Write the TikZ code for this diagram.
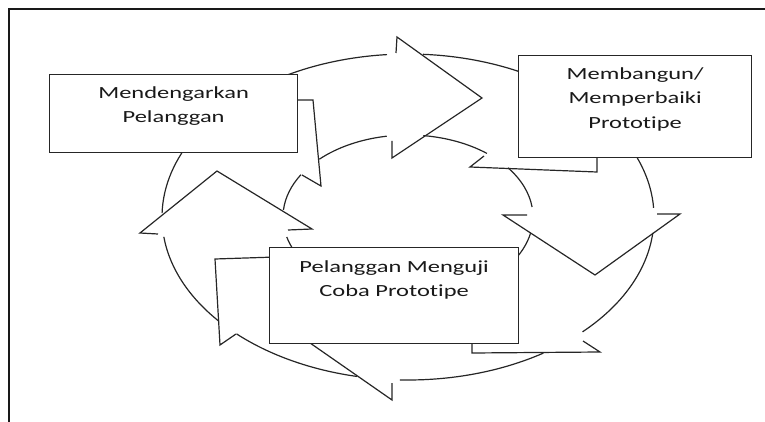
\documentclass[tikz,border=0pt]{standalone}
\usepackage{fontspec}
\setmainfont{Carlito}[RawFeature=-liga, RawFeature=-clig, RawFeature=-calt, RawFeature=-dlig]
\usetikzlibrary{positioning}

\tikzset{
  ring/.style={line width=1.2pt, draw=black!85},
  kotak/.style={draw=black!85, line width=1.2pt, fill=white, inner sep=0pt},
  tulisan/.style={text=black!90, font=\fontsize{17}{24.5}\selectfont, align=center, xscale=1.44, inner sep=0pt}
}

\begin{document}
\begin{tikzpicture}[x=1pt, y=-1pt]
    \useasboundingbox (0,0) rectangle (765,422);

    % Frame
    \draw[line width=2pt, black!90] (9,422) -- (9,9) -- (765,9);

    \coordinate (O) at (408,217);

    % Outer ring pieces
    \draw[ring] (O) ++(-125:246 and 163) arc[start angle=-125, end angle=-94.9, x radius=246, y radius=163];
    \draw[ring] (O) ++(-178.6:246 and 163) arc[start angle=-178.6, end angle=-150, x radius=246, y radius=163];
    \draw[ring] (O) ++(-86.5:246 and 163) arc[start angle=-86.5, end angle=-55, x radius=246, y radius=163];
    \draw[ring] (O) ++(-30:246 and 163) arc[start angle=-30, end angle=-3.2, x radius=246, y radius=163];
    \draw[ring] (O) ++(5.6:246 and 163) arc[start angle=5.6, end angle=44.8, x radius=246, y radius=163];
    \draw[ring] (O) ++(56.6:246 and 163) arc[start angle=56.6, end angle=91.9, x radius=246, y radius=163];
    \draw[ring] (O) ++(102:246 and 163) arc[start angle=102, end angle=134.2, x radius=246, y radius=163];
    \draw[ring] (O) ++(140.2:246 and 163) arc[start angle=140.2, end angle=173, x radius=246, y radius=163];

    % Inner ring pieces
    \draw[ring] (O) ++(-175:125 and 82) arc[start angle=-175, end angle=-148.9, x radius=125, y radius=82];
    \draw[ring] (O) ++(-135.2:125 and 82) arc[start angle=-135.2, end angle=-99.8, x radius=125, y radius=82];
    \draw[ring] (O) ++(-83:125 and 82) arc[start angle=-83, end angle=-50.8, x radius=125, y radius=82];
    \draw[ring] (O) ++(-36.8:125 and 82) arc[start angle=-36.8, end angle=-7, x radius=125, y radius=82];
    \draw[ring] (O) ++(11.2:125 and 82) arc[start angle=11.2, end angle=35, x radius=125, y radius=82];
    \draw[ring] (O) ++(150:125 and 82) arc[start angle=150, end angle=165.9, x radius=125, y radius=82];

    % Arrow heads
    \draw[ring] (396,53) -- (397,37) -- (482,98) -- (392,158) -- (392,141);
    \draw[ring] (527,215) -- (503,215) -- (595,275) -- (680,214) -- (657,214);
    \draw[ring] (392,383) -- (392,400) -- (300,336);
    \draw[ring] (158,234) -- (140,233) -- (217,171) -- (312,229) -- (288,230);

    % Notched tails
    \draw[ring] (302,175) -- (321,186) -- (313,100) -- (290,100);
    \draw[ring] (484,156) -- (470,167) -- (597,172) -- (597,150);
    \draw[ring] (236,334) -- (220,345) -- (215,259) -- (276,257);
    \draw[ring] (583,341) -- (600,352) -- (472,353) -- (472,336);

    % Boxes
    \node[kotak, minimum width=248pt, minimum height=78pt, anchor=north west] (box1) at (49,74) {};
    \node[kotak, minimum width=233pt, minimum height=102pt, anchor=north west] (box2) at (518,55) {};
    \node[kotak, minimum width=249pt, minimum height=96pt, anchor=north west] (box3) at (269,247) {};

    \node[tulisan, below=12pt of box1.north] (teks1) {Mendengarkan\\Pelanggan};
    \node[tulisan, below=12pt of box2.north] (teks2) {Membangun/\\Memperbaiki\\Prototipe};
    \node[tulisan, below=13pt of box3.north] (teks3) {Pelanggan Menguji\\Coba Prototipe};

\end{tikzpicture}
\end{document}
